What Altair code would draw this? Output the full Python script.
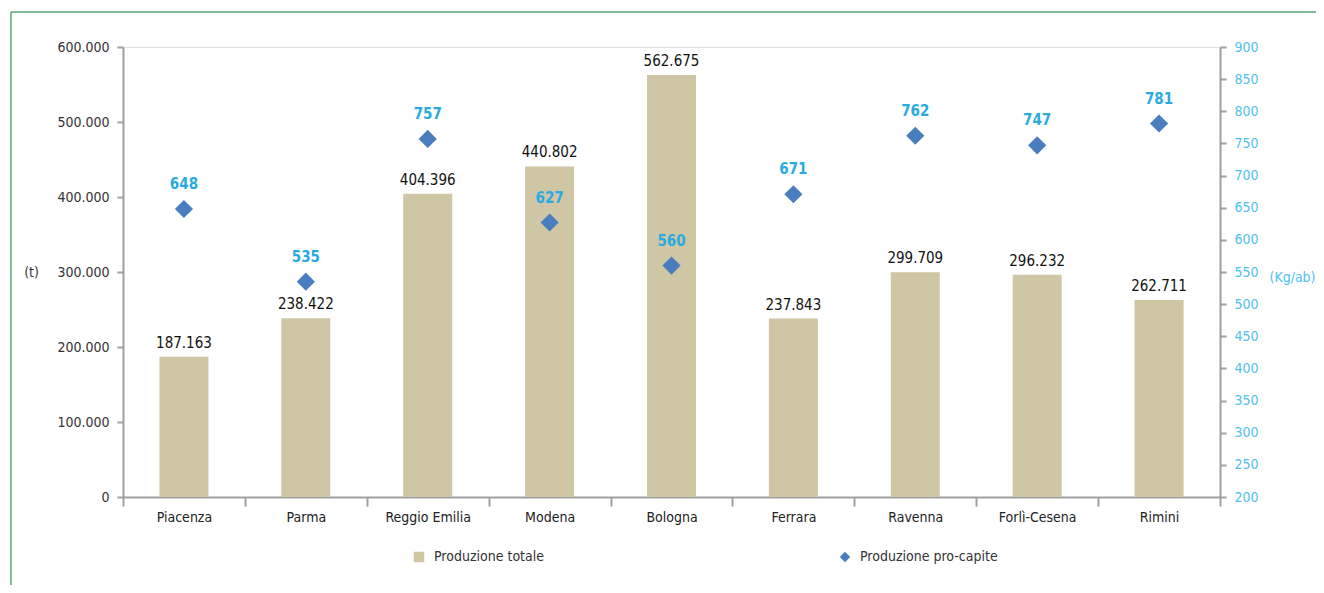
import altair as alt
import pandas as pd

province = ["Piacenza", "Parma", "Reggio Emilia", "Modena", "Bologna",
            "Ferrara", "Ravenna", "Forlì-Cesena", "Rimini"]
totale = [187163, 238422, 404396, 440802, 562675, 237843, 299709, 296232, 262711]
procapite = [648, 535, 757, 627, 560, 671, 762, 747, 781]
serie = ["Produzione totale", "Produzione pro-capite"]
left_ticks = [0, 100000, 200000, 300000, 400000, 500000, 600000]
right_ticks = [200, 250, 300, 350, 400, 450, 500, 550, 600, 650, 700, 750, 800, 850, 900]

df = pd.DataFrame({"provincia": province, "totale": totale, "procapite": procapite})

FONT = "'DejaVu Sans Condensed', 'Liberation Sans Narrow', Roboto, sans-serif"
AXIS_GRAY = "#a0a0a0"
CYAN = "#29aae1"
CYAN_LIGHT = "#4dc3f0"
BAR = "#cec6a4"
DIAMOND = "#4a7dbd"

x = alt.X("provincia:N", sort=province, title=None,
          scale=alt.Scale(paddingInner=0, paddingOuter=0),
          axis=alt.Axis(labelAngle=0, tickBand="extent", domainColor=AXIS_GRAY,
                        domainWidth=2, tickColor=AXIS_GRAY, tickWidth=2, tickSize=9,
                        labelPadding=4, labelFont=FONT, labelFontSize=14,
                        labelColor="#222222"))

color_scale = alt.Scale(domain=serie, range=[BAR, DIAMOND])
shape_scale = alt.Scale(domain=serie, range=["square", "diamond"])

legend = alt.Legend(title=None, orient="none", legendX=289, legendY=503,
                    direction="horizontal", columns=2, columnPadding=294,
                    symbolSize=110, labelFont=FONT, labelFontSize=14,
                    labelColor="#333333", padding=0, symbolStrokeWidth=0,
                    labelOffset=8)

left_axis = alt.Axis(values=left_ticks, labelOverlap=False,
                     labelExpr="replace(format(datum.value, ','), ',', '.')",
                     title="(t)", titleAngle=0, titleX=-92, titleY=225,
                     titleAlign="center", titleBaseline="middle",
                     titleFont=FONT, titleFontSize=14, titleFontWeight="normal",
                     titleColor="#333333",
                     grid=False, domainColor=AXIS_GRAY, domainWidth=2,
                     tickColor=AXIS_GRAY, tickWidth=2, tickSize=6,
                     labelPadding=8, labelFont=FONT, labelFontSize=14,
                     labelColor="#333333")
left_scale = alt.Scale(domain=[0, 600000])

bars = alt.Chart(df).transform_calculate(serie="'Produzione totale'").mark_bar(size=49).encode(
    x=x, y=alt.Y("totale:Q", scale=left_scale, axis=left_axis),
    color=alt.Color("serie:N", scale=color_scale, legend=legend),
)

bar_labels = alt.Chart(df).transform_calculate(
    lab="replace(format(datum.totale, ','), ',', '.')"
).mark_text(dy=-14, font=FONT, fontSize=15, color="#111111").encode(
    x=x, y=alt.Y("totale:Q", scale=left_scale, axis=left_axis), text="lab:N")

left_layer = alt.layer(bars, bar_labels)

right_axis = alt.Axis(orient="right", values=right_ticks, labelOverlap=False,
                      title="(Kg/ab)",
                      titleAngle=0, titleX=72, titleY=230, titleAlign="center",
                      titleBaseline="middle", titleFont=FONT, titleFontSize=14,
                      titleFontWeight="normal", titleColor=CYAN_LIGHT,
                      grid=False, domainColor=AXIS_GRAY, domainWidth=2,
                      tickColor=AXIS_GRAY, tickWidth=2, tickSize=6,
                      labelPadding=8, labelFont=FONT, labelFontSize=14,
                      labelColor=CYAN_LIGHT)
right_scale = alt.Scale(domain=[200, 900])

points = alt.Chart(df).transform_calculate(serie="'Produzione pro-capite'").mark_point(
    filled=True, size=330, opacity=1).encode(
    x=x, y=alt.Y("procapite:Q", scale=right_scale, axis=right_axis),
    color=alt.Color("serie:N", scale=color_scale, legend=legend),
    shape=alt.Shape("serie:N", scale=shape_scale, legend=legend),
)

point_labels = alt.Chart(df).mark_text(dy=-25, font=FONT, fontSize=15, fontWeight="bold",
                                       color=CYAN).encode(
    x=x, y=alt.Y("procapite:Q", scale=right_scale, axis=right_axis), text="procapite:Q")

right_layer = alt.layer(points, point_labels)

frame_df = pd.DataFrame({"a": [0]})
frame_left = alt.Chart(frame_df).mark_rule(color="#52a873", strokeWidth=1.5).encode(
    x=alt.value(-112), y=alt.value(-35), y2=alt.value(600))
frame_top = alt.Chart(frame_df).mark_rule(color="#52a873", strokeWidth=1.5).encode(
    x=alt.value(-112), x2=alt.value(1320), y=alt.value(-35))

chart = alt.layer(left_layer, right_layer, frame_left, frame_top).resolve_scale(
    y="independent"
).properties(
    width=1097, height=450,
    autosize=alt.AutoSizeParams(type="none"),
    padding={"left": 115, "top": 39, "right": 96, "bottom": 88},
).configure_view(strokeOpacity=0, strokeWidth=0).configure(background="white")

chart.save("out.html", embed_options={"renderer": "svg", "actions": False})
